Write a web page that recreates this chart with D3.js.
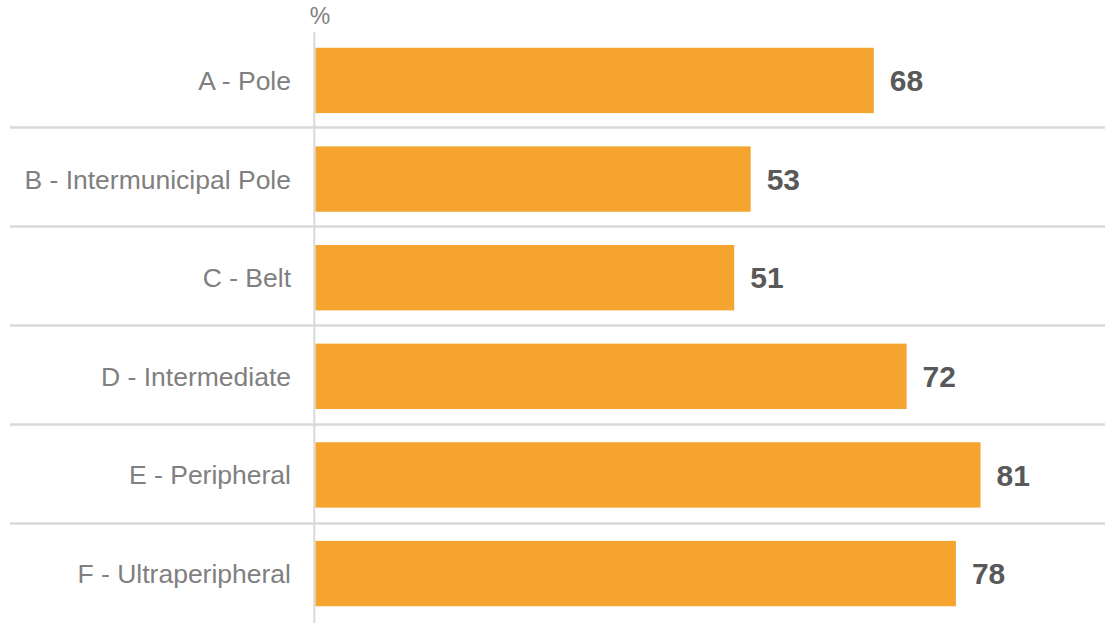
<!DOCTYPE html>
<html>
<head>
<meta charset="utf-8">
<script src="https://cdn.jsdelivr.net/npm/d3@7/dist/d3.min.js"></script>
<style>
  html, body { margin: 0; padding: 0; background: #ffffff; }
  svg { display: block; font-family: "Liberation Sans", Arial, sans-serif; }
</style>
</head>
<body>
<svg id="chart" width="1105" height="623"></svg>
<script>
// Share by area type (%)
const categories = [
  "A - Pole",
  "B - Intermunicipal Pole",
  "C - Belt",
  "D - Intermediate",
  "E - Peripheral",
  "F - Ultraperipheral"
];
const values = [68, 53, 51, 72, 81, 78];
const unitLabel = "%";

const W = 1105, H = 623;
const svg = d3.select("#chart");

const x = d3.scaleLinear().domain([0, 100]).range([315.5, 315.5 + 821]);
const y = d3.scaleBand().domain(categories).range([29, 623]).paddingInner(0.337).paddingOuter(0.18);
const band = d3.scaleBand().domain(categories).range([29, 623]);

// Horizontal separators between categories
svg.append("g")
  .selectAll("line")
  .data(categories.slice(1))
  .join("line")
  .attr("x1", 10)
  .attr("x2", W)
  .attr("y1", d => band(d) - 0.5)
  .attr("y2", d => band(d) - 0.5)
  .attr("stroke", "#d9d9d9")
  .attr("stroke-width", 2.5);

// Vertical axis line
svg.append("line")
  .attr("x1", 314.3).attr("x2", 314.3)
  .attr("y1", 32).attr("y2", H)
  .attr("stroke", "#d9d9d9")
  .attr("stroke-width", 2);

// Bars
svg.append("g")
  .selectAll("rect")
  .data(values)
  .join("rect")
  .attr("x", x(0))
  .attr("y", (d, i) => y(categories[i]) + 1)
  .attr("width", d => x(d) - x(0))
  .attr("height", y.bandwidth())
  .attr("fill", "#f4a42f");

// Category labels
svg.append("g")
  .selectAll("text")
  .data(categories)
  .join("text")
  .attr("x", 291)
  .attr("y", d => y(d) + 1 + y.bandwidth() / 2)
  .attr("dy", "0.36em")
  .attr("text-anchor", "end")
  .attr("font-size", 26.5)
  .attr("fill", "#808080")
  .text(d => d);

// Value labels
svg.append("g")
  .selectAll("text")
  .data(values)
  .join("text")
  .attr("x", d => x(d) + 16)
  .attr("y", (d, i) => y(categories[i]) + 1 + y.bandwidth() / 2)
  .attr("dy", "0.36em")
  .attr("font-size", 30)
  .attr("font-weight", "bold")
  .attr("fill", "#595959")
  .text(d => d);

// Unit label above the axis
svg.append("text")
  .attr("x", 320)
  .attr("y", 24)
  .attr("text-anchor", "middle")
  .attr("font-size", 23)
  .attr("fill", "#808080")
  .text(unitLabel);
</script>
</body>
</html>
